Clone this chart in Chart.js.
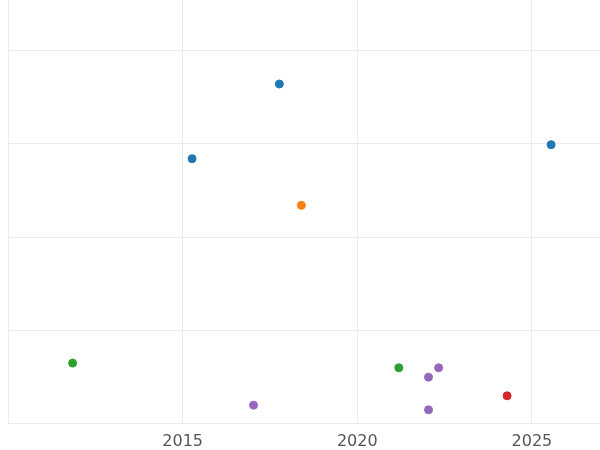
<!DOCTYPE html>
<html><head><meta charset="utf-8">
<script src="https://cdn.jsdelivr.net/npm/chart.js@4"></script>
<style>html,body{margin:0;padding:0;background:#fff;overflow:hidden;width:600px;height:450px}#w{position:absolute;left:0;top:-5px;width:605px;height:464px}</style>
</head><body><div id="w"><canvas id="c"></canvas></div>
<script>
const blueX=[2017.77,2015.27,2025.55], blueY=[3.64,2.84,2.99];
const orangeX=[2018.40], orangeY=[2.34];
const greenX=[2011.85,2021.19], greenY=[0.65,0.60];
const purpleX=[2017.03,2022.04,2022.33,2022.04], purpleY=[0.20,0.50,0.60,0.15];
const redX=[2024.29], redY=[0.30];
const xTicks=[2015,2020,2025];
function pts(xs,ys){return xs.map((x,i)=>({x:x,y:ys[i]}));}
function ds(xs,ys,c){return {data:pts(xs,ys),backgroundColor:c,borderColor:c,pointRadius:4,pointHoverRadius:4};}
new Chart(document.getElementById('c'),{type:'scatter',
data:{datasets:[ds(blueX,blueY,'#1f77b4'),ds(orangeX,orangeY,'#ff7f0e'),ds(greenX,greenY,'#2ca02c'),ds(purpleX,purpleY,'#9467bd'),ds(redX,redY,'#d62728')]},
options:{responsive:true,maintainAspectRatio:false,animation:false,
layout:{padding:{left:5,top:0,right:0,bottom:0}},
plugins:{legend:{display:false},tooltip:{enabled:false}},
scales:{
x:{type:'linear',min:2010,max:2026.95,afterBuildTicks:a=>{a.ticks=[2010].concat(xTicks).map(v=>({value:v}));},
ticks:{font:{family:'DejaVu Sans',size:16},color:'#555',padding:8,callback:v=>v===2010?'':String(v)},
grid:{color:'#ebebeb',drawTicks:false},border:{display:false}},
y:{min:0,max:4.54,afterBuildTicks:a=>{a.ticks=[0,1,2,3,4].map(v=>({value:v}));},
ticks:{display:false},grid:{color:'#ebebeb',drawTicks:false},border:{display:false}}
}}});
</script></body></html>
